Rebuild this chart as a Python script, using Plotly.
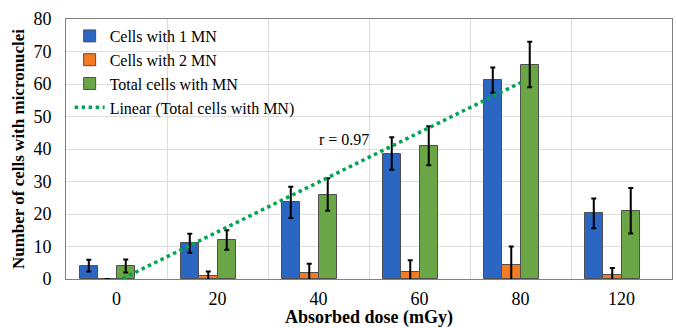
import numpy as np
import plotly.graph_objects as go

doses = ["0", "20", "40", "60", "80", "120"]
one_mn = [4.1, 11.0, 23.6, 38.6, 61.2, 20.2]
one_mn_err = [1.8, 2.9, 4.8, 5.0, 3.9, 4.6]
two_mn = [0.0, 0.9, 1.9, 2.2, 4.3, 1.2]
two_mn_err = [0.0, 1.4, 2.8, 3.6, 5.7, 2.2]
total_mn = [4.0, 12.0, 26.0, 41.0, 66.0, 21.0]
total_err = [2.0, 3.0, 5.0, 6.0, 7.0, 7.0]
trend_points = 5  # trendline fitted on doses 0..80
r_label = "r = 0.97"

xs = np.arange(len(doses))
slot = 0.183
font_family = "'Times New Roman', 'Liberation Serif', serif"

fig = go.Figure()
series = [
    ("Cells with 1 MN", one_mn, one_mn_err, "#2B66C2"),
    ("Cells with 2 MN", two_mn, two_mn_err, "#F47A24"),
    ("Total cells with MN", total_mn, total_err, "#6AA546"),
]
for i, (name, vals, err, col) in enumerate(series):
    fig.add_trace(go.Bar(
        x=xs, y=vals, name=name, width=slot, offset=-2 * slot + i * slot,
        marker=dict(color=col, line=dict(color="#505050", width=1)),
        error_y=dict(type="data", array=err, visible=True, color="black", thickness=2, width=2.5),
    ))

tx = xs[:trend_points]
coef = np.polyfit(tx, np.array(total_mn[:trend_points]), 1)
fig.add_trace(go.Scatter(
    x=tx, y=np.polyval(coef, tx), mode="lines", name="Linear (Total cells with MN)",
    line=dict(color="#00A550", width=3.5, dash="dot"),
))

fig.add_annotation(x=2.25, y=42.9, text=r_label, showarrow=False,
                   font=dict(family=font_family, size=16, color="black"))

fig.update_layout(
    width=676, height=328,
    margin=dict(l=66, r=4, t=19, b=49),
    paper_bgcolor="white", plot_bgcolor="white",
    font=dict(family=font_family, color="black"),
    showlegend=True,
    legend=dict(x=0.006, y=1.0, xanchor="left", yanchor="top", bgcolor="rgba(0,0,0,0)",
                font=dict(size=16, family=font_family), tracegroupgap=0, itemwidth=30),
    bargap=0,
)
fig.update_xaxes(
    range=[-0.5, 5.5], tickvals=xs, ticktext=doses, showgrid=False,
    tickfont=dict(size=18, family=font_family), ticks="", ticklabelstandoff=3,
    minor=dict(tickvals=list(np.arange(0.5, 5.5, 1.0)), showgrid=True, gridcolor="#DDDDDD", gridwidth=1, ticks=""),
    showline=True, linecolor="#808080", linewidth=1, mirror=True, zeroline=False,
    title=dict(text="<b>Absorbed dose (mGy)</b>", font=dict(size=18, family=font_family), standoff=2),
)
fig.update_yaxes(
    range=[0, 80], dtick=10, tickfont=dict(size=18, family=font_family), showgrid=True, gridcolor="#DDDDDD",
    showline=True, linecolor="#808080", linewidth=1, mirror=True, zeroline=False, ticks="",
    ticklabelstandoff=10,
    title=dict(text="<b>Number of cells with micronuclei</b>", font=dict(size=17, family=font_family), standoff=4),
)

fig.write_html("out.html")
